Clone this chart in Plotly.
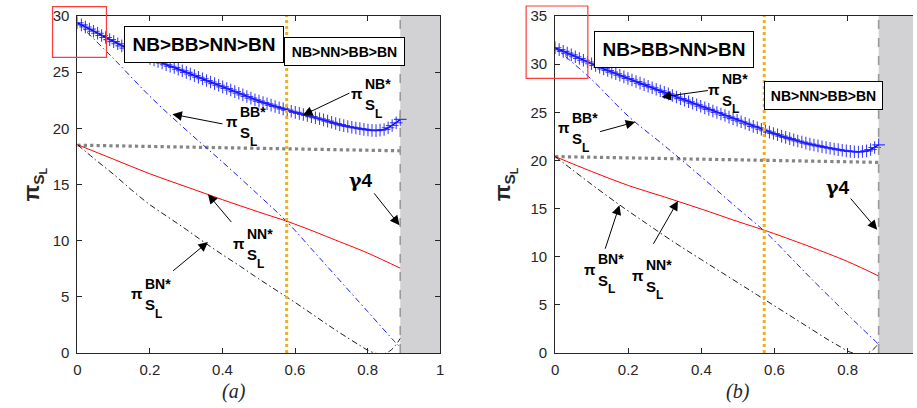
import plotly.graph_objects as go

# ---------------- data ----------------
gamma_a = 0.89
gamma_b = 0.885
threshold_a = 0.577
threshold_b = 0.572

nb_a_y = [29.40, 29.21, 29.02, 28.83, 28.64, 28.46, 28.27, 28.09, 27.90, 27.72,
          27.53, 27.34, 27.14, 26.97, 26.82, 26.67, 26.52, 26.38, 26.23, 26.09,
          25.95, 25.81, 25.66, 25.53, 25.41, 25.26, 25.12, 24.98, 24.84, 24.69,
          24.55, 24.41, 24.26, 24.12, 23.98, 23.84, 23.69, 23.55, 23.41, 23.27,
          23.12, 22.98, 22.83, 22.69, 22.54, 22.42, 22.30, 22.19, 22.07, 21.95,
          21.83, 21.73, 21.62, 21.52, 21.42, 21.33, 21.23, 21.14, 21.04, 20.94,
          20.85, 20.75, 20.64, 20.54, 20.43, 20.33, 20.24, 20.16, 20.09, 20.03,
          19.97, 19.91, 19.85, 19.82, 19.80, 19.84, 19.90, 20.05, 20.25, 20.50,
          20.80]
nb_b_y = [31.70, 31.51, 31.33, 31.14, 30.96, 30.77, 30.59, 30.40, 30.22, 30.04,
          29.86, 29.69, 29.51, 29.34, 29.17, 29.00, 28.84, 28.68, 28.51, 28.35,
          28.19, 28.03, 27.87, 27.71, 27.55, 27.39, 27.23, 27.07, 26.91, 26.75,
          26.58, 26.42, 26.26, 26.10, 25.94, 25.79, 25.62, 25.46, 25.30, 25.14,
          24.98, 24.82, 24.66, 24.50, 24.34, 24.18, 24.02, 23.86, 23.70, 23.54,
          23.39, 23.24, 23.09, 22.94, 22.79, 22.66, 22.52, 22.39, 22.26, 22.13,
          22.02, 21.91, 21.80, 21.69, 21.60, 21.51, 21.42, 21.34, 21.26, 21.19,
          21.12, 21.05, 20.99, 20.94, 20.90, 20.88, 20.92, 20.99, 21.14, 21.35,
          21.62]
nb_a_x = [gamma_a * i / (len(nb_a_y) - 1) for i in range(len(nb_a_y))]
nb_b_x = [gamma_b * i / (len(nb_b_y) - 1) for i in range(len(nb_b_y))]

bb_a_x = [0, 0.1, 0.2, 0.3, 0.4, 0.5, 0.58, 0.65, 0.7, 0.8, 0.875, 0.89]
bb_a_y = [29.4, 26.2, 22.85, 19.85, 17.0, 14.05, 11.6, 9.1, 7.3, 3.7, 1.0, 0.5]
nn_a_x = [0, 0.1, 0.2, 0.3, 0.4, 0.5, 0.58, 0.65, 0.7, 0.8, 0.89]
nn_a_y = [18.55, 17.25, 15.95, 14.8, 13.65, 12.55, 11.7, 10.85, 10.2, 8.9, 7.55]
bn_a_x = [0, 0.05, 0.1, 0.15, 0.2, 0.25, 0.3, 0.35, 0.4, 0.45, 0.5, 0.55, 0.6,
          0.65, 0.7, 0.75, 0.78, 0.8, 0.82, 0.84, 0.86, 0.875, 0.89]
bn_a_y = [18.55, 17.2, 15.9, 14.5, 13.2, 12.1, 11.0, 9.85, 8.75, 7.7, 6.6, 5.55, 4.5,
          3.4, 2.3, 1.25, 0.65, 0.25, 0.0, -0.1, 0.15, 0.6, 1.3]
ref_a_x = [0, 0.89]
ref_a_y = [18.5, 18.0]

bb_b_x = [0, 0.1, 0.2, 0.3, 0.4, 0.5, 0.58, 0.65, 0.7, 0.8, 0.885]
bb_b_y = [31.7, 28.4, 24.6, 21.5, 18.3, 15.0, 12.4, 9.7, 7.75, 4.0, 0.9]
nn_b_x = [0, 0.1, 0.2, 0.3, 0.4, 0.5, 0.58, 0.65, 0.7, 0.8, 0.885]
nn_b_y = [20.4, 18.85, 17.4, 16.2, 14.95, 13.65, 12.65, 11.7, 11.0, 9.5, 8.0]
bn_b_x = [0, 0.05, 0.1, 0.15, 0.2, 0.25, 0.3, 0.35, 0.4, 0.45, 0.5, 0.55, 0.6,
          0.65, 0.7, 0.75, 0.78, 0.8, 0.82, 0.84, 0.86, 0.875, 0.885]
bn_b_y = [20.4, 18.95, 17.5, 16.1, 14.75, 13.45, 12.15, 10.9, 9.7, 8.5, 7.3, 6.1, 4.9,
          3.7, 2.5, 1.3, 0.65, 0.2, -0.05, -0.15, 0.1, 0.55, 1.1]
ref_b_x = [0, 0.885]
ref_b_y = [20.4, 19.8]

x_ticks_a = [0, 0.2, 0.4, 0.6, 0.8, 1]
x_ticktext_a = ["0", "0.2", "0.4", "0.6", "0.8", "1"]
x_ticks_b = [0, 0.2, 0.4, 0.6, 0.8]
x_ticktext_b = ["0", "0.2", "0.4", "0.6", "0.8"]
y_ticks_a = [0, 5, 10, 15, 20, 25, 30]
y_ticks_b = [0, 5, 10, 15, 20, 25, 30, 35]

# label anchors (data coords): (superscript, x, y)
labels_a = [("NB*", 0.770, 23.06), ("BB*", 0.426, 20.57), ("NN*", 0.446, 9.74), ("BN*", 0.164, 5.29)]
labels_b = [("NB*", 0.435, 27.4), ("BB*", 0.023, 23.4), ("BN*", 0.095, 8.72), ("NN*", 0.227, 8.05)]
# arrows: (tail x, tail y, tip x, tip y)
arrows_a = [(0.754, 23.2, 0.622, 21.17), (0.404, 20.37, 0.262, 21.26),
            (0.428, 11.52, 0.360, 14.13), (0.26, 7.21, 0.360, 9.88),
            (0.815, 14.34, 0.888, 11.38)]
arrows_b = [(0.422, 27.28, 0.291, 26.59), (0.119, 22.95, 0.219, 23.99),
            (0.1356, 10.67, 0.176, 15.34), (0.2666, 11.19, 0.336, 15.79),
            (0.805, 16.2, 0.881, 12.8)]
gamma_label_a = (0.783, 15.38)
gamma_label_b = (0.773, 17.24)
# order boxes: (text, x, y, width px, height px, font size)
boxes_a = [("NB>BB>NN>BN", 0.349, 27.49, 158, 35, 19), ("NB>NN>BB>BN", 0.736, 26.82, 119, 27, 14)]
boxes_b = [("NB>BB>NN>BN", 0.325, 31.52, 158, 35, 19), ("NB>NN>BB>BN", 0.7355, 26.76, 117, 27, 14)]

SANS = "Liberation Sans, Arial, sans-serif"
INK = "#262626"

fig = go.Figure()

def add_panel(xa, ya, nb_x, nb_y, bb_x, bb_y, nn_x, nn_y, bn_x, bn_y, rx, ry):
    fig.add_trace(go.Scatter(x=rx, y=ry, mode="lines", xaxis=xa, yaxis=ya,
                             line=dict(color="#858585", width=3.2, dash="dot")))
    fig.add_trace(go.Scatter(x=bb_x, y=bb_y, mode="lines", xaxis=xa, yaxis=ya,
                             line=dict(color="#0000ff", width=0.9, dash="6px,3px,1.5px,3px", shape="spline")))
    fig.add_trace(go.Scatter(x=nn_x, y=nn_y, mode="lines", xaxis=xa, yaxis=ya,
                             line=dict(color="#ff0000", width=1, shape="spline")))
    fig.add_trace(go.Scatter(x=bn_x, y=bn_y, mode="lines", xaxis=xa, yaxis=ya,
                             line=dict(color="#000000", width=0.9, dash="6px,3px,1.5px,3px", shape="spline")))
    fig.add_trace(go.Scatter(x=nb_x, y=nb_y, mode="lines+markers", xaxis=xa, yaxis=ya,
                             line=dict(color="#0000ff", width=1.5),
                             marker=dict(symbol="cross-thin", size=9,
                                         line=dict(width=1.1, color="rgba(30,30,255,0.85)"))))

add_panel("x", "y", nb_a_x, nb_a_y, bb_a_x, bb_a_y, nn_a_x, nn_a_y, bn_a_x, bn_a_y, ref_a_x, ref_a_y)
add_panel("x2", "y2", nb_b_x, nb_b_y, bb_b_x, bb_b_y, nn_b_x, nn_b_y, bn_b_x, bn_b_y, ref_b_x, ref_b_y)

shapes = []
annotations = []

def panel_decor(xr, yr, gamma, thr, labels, arrows, glabel, boxes):
    shapes.append(dict(type="rect", xref=xr, yref=yr + " domain", x0=gamma, x1=1.05, y0=0, y1=1,
                       fillcolor="#d2d2d5", line=dict(width=0), layer="below"))
    shapes.append(dict(type="line", xref=xr, yref=yr + " domain", x0=gamma, x1=gamma, y0=0, y1=1,
                       line=dict(color="#9a9a9a", width=1.6, dash="dash")))
    shapes.append(dict(type="line", xref=xr, yref=yr + " domain", x0=thr, x1=thr, y0=0, y1=1,
                       line=dict(color="#EDB120", width=3, dash="dot")))
    for sup, x, y in labels:
        base = dict(xref=xr, yref=yr, x=x, y=y, showarrow=False, yanchor="middle")
        annotations.append(dict(base, text="<b>π</b>", xanchor="center",
                                font=dict(family=SANS, size=15, color="black")))
        annotations.append(dict(base, text="<b>%s</b>" % sup, xanchor="left", xshift=6, yshift=10,
                                font=dict(family=SANS, size=14, color="black")))
        annotations.append(dict(base, text="<b>S</b>", xanchor="left", xshift=6, yshift=-11,
                                font=dict(family=SANS, size=15, color="black")))
        annotations.append(dict(base, text="<b>L</b>", xanchor="left", xshift=16, yshift=-20,
                                font=dict(family=SANS, size=12, color="black")))
    for tx, ty, hx, hy in arrows:
        annotations.append(dict(xref=xr, yref=yr, axref=xr, ayref=yr, x=hx, y=hy, ax=tx, ay=ty,
                                text="", showarrow=True, arrowhead=2, arrowsize=1.9,
                                arrowwidth=1, arrowcolor="black", standoff=0))
    annotations.append(dict(xref=xr, yref=yr, x=glabel[0], y=glabel[1], showarrow=False,
                            text='<b><span style="font-family:DejaVu Serif">γ</span>4</b>',
                            font=dict(family=SANS, size=19, color="black")))
    for t, x, y, w, h, s in boxes:
        annotations.append(dict(xref=xr, yref=yr, x=x, y=y, showarrow=False, text="<b>%s</b>" % t,
                                width=w, height=h, borderpad=0, borderwidth=1, bordercolor="black",
                                bgcolor="white", xanchor="center", yanchor="middle", align="center",
                                font=dict(family=SANS, size=s, color="black")))

panel_decor("x", "y", gamma_a, threshold_a, labels_a, arrows_a, gamma_label_a, boxes_a)
panel_decor("x2", "y2", gamma_b, threshold_b, labels_b, arrows_b, gamma_label_b, boxes_b)

# red highlight boxes (paper coords, extend beyond axes)
shapes.append(dict(type="rect", xref="paper", yref="paper", x0=0.0534, x1=0.1127, y0=0.8774, y1=1.0276,
                   line=dict(color="#ff3b3b", width=1.2)))
shapes.append(dict(type="rect", xref="paper", yref="paper", x0=0.5744, x1=0.6423, y0=0.8151, y1=1.0297,
                   line=dict(color="#ff3b3b", width=1.2)))

# axis titles
for xp in (0.033, 0.551):
    annotations.append(dict(xref="paper", yref="paper", x=xp, y=0.50, xanchor="center", yanchor="middle",
                            showarrow=False, textangle=-90,
                            text="<b>π<sub>S<sub>L</sub></sub></b>",
                            font=dict(family=SANS, size=22, color=INK)))
annotations.append(dict(xref="x", yref="paper", x=0.431, y=-0.115, yanchor="middle", showarrow=False,
                        text="<i>(a)</i>", font=dict(family="Liberation Serif, serif", size=20, color=INK)))
annotations.append(dict(xref="x2", yref="paper", x=0.499, y=-0.115, yanchor="middle", showarrow=False,
                        text="<i>(b)</i>", font=dict(family="Liberation Serif, serif", size=20, color=INK)))

axis_common = dict(showline=True, linecolor=INK, linewidth=1, ticks="inside", ticklen=5,
                   tickcolor=INK, tickwidth=1, showgrid=False, zeroline=False,
                   tickfont=dict(family=SANS, size=15, color=INK))

fig.update_layout(
    width=917, height=408, margin=dict(l=0, r=0, t=16, b=55),
    paper_bgcolor="white", plot_bgcolor="white", showlegend=False,
    xaxis=dict(axis_common, domain=[0.0807, 0.4798], range=[0, 1], tickvals=x_ticks_a,
               ticktext=x_ticktext_a, mirror="ticks", anchor="y", ticklabelstandoff=3),
    yaxis=dict(axis_common, domain=[0, 1], range=[0, 30], tickvals=y_ticks_a, mirror="ticks", anchor="x",
               ticklabelstandoff=4),
    xaxis2=dict(axis_common, domain=[0.6063, 1.0], range=[0, 0.979], tickvals=x_ticks_b,
                ticktext=x_ticktext_b, mirror="ticks", anchor="y2", ticklabelstandoff=3),
    yaxis2=dict(axis_common, domain=[0, 1], range=[0, 35], tickvals=y_ticks_b, mirror=False, anchor="x2",
                ticklabelstandoff=4),
    shapes=shapes, annotations=annotations,
)

fig.write_html("out.html", config={"displayModeBar": False},
               post_script="document.body.style.margin='0';")
